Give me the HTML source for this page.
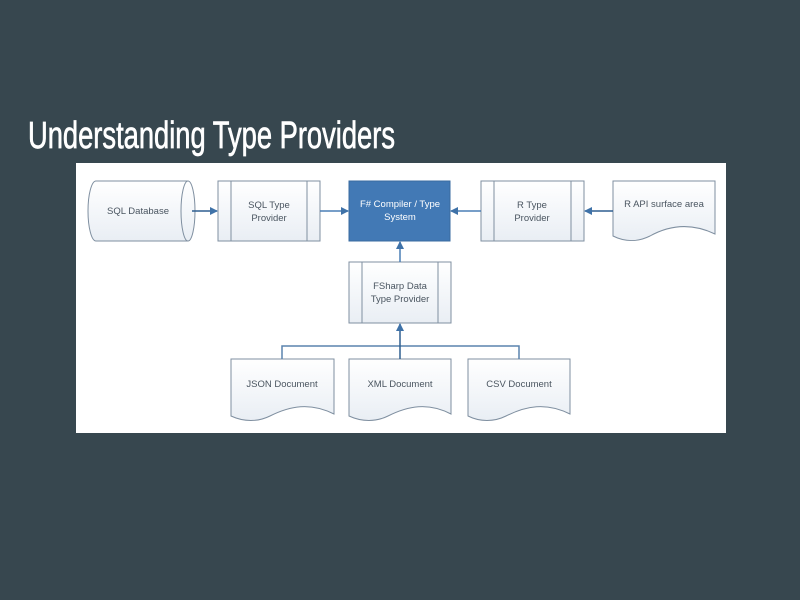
<!DOCTYPE html>
<html><head><style>html,body{margin:0;padding:0;background:#37474f;width:800px;height:600px;overflow:hidden}</style></head>
<body>
<svg width="800" height="600" viewBox="0 0 800 600" xmlns="http://www.w3.org/2000/svg" font-family="Liberation Sans, sans-serif">
<defs>
<linearGradient id="g" x1="0" y1="0" x2="0" y2="1"><stop offset="0" stop-color="#ffffff"/><stop offset="1" stop-color="#e9eef4"/></linearGradient>
<marker id="a" markerWidth="8" markerHeight="8" refX="7" refY="4" orient="auto" markerUnits="userSpaceOnUse"><path d="M0,0 L8,4 L0,8 Z" fill="#3f72a8"/></marker>
</defs>
<rect width="800" height="600" fill="#37474f"/>
<text x="28" y="148" font-size="38" fill="#fff" stroke="#fff" stroke-width="0.7" textLength="367" lengthAdjust="spacingAndGlyphs">Understanding Type Providers</text>
<rect x="76" y="163" width="650" height="270" fill="#fff"/>
<g stroke="#7f8fa0" stroke-width="1" fill="url(#g)">
<path d="M96,181 H188 A7,30 0 0 1 188,241 H96 A8,30 0 0 1 96,181 Z"/>
<path d="M188,181 A7,30 0 0 0 188,241" fill="none"/>
<rect x="218" y="181" width="102" height="60"/>
<line x1="231" y1="181" x2="231" y2="241"/><line x1="307" y1="181" x2="307" y2="241"/>
<rect x="481" y="181" width="103" height="60"/>
<line x1="494" y1="181" x2="494" y2="241"/><line x1="571" y1="181" x2="571" y2="241"/>
<rect x="349" y="262" width="102" height="61"/>
<line x1="362" y1="262" x2="362" y2="323"/><line x1="438" y1="262" x2="438" y2="323"/>
<path d="M613,181 H715 V234 C690,222 668,226 650,236 C638,242 625,242 613,236 Z"/>
<path d="M231,359 H334 V414 C310,402 290,406 270,416 C258,422 244,422 231,416 Z"/>
<path d="M349,359 H451 V414 C428,402 408,406 388,416 C376,422 362,422 349,416 Z"/>
<path d="M468,359 H570 V414 C546,402 526,406 506,416 C494,422 480,422 468,416 Z"/>
</g>
<rect x="349" y="181" width="101" height="60" fill="#4279b5" stroke="#3a6ba0"/>
<g stroke="#4a7fb5" stroke-width="1.5" fill="none">
<line x1="192" y1="211" x2="217" y2="211" marker-end="url(#a)" stroke="#2f5f90"/>
<line x1="320" y1="211" x2="348" y2="211" marker-end="url(#a)"/>
<line x1="481" y1="211" x2="451" y2="211" marker-end="url(#a)"/>
<line x1="613" y1="211" x2="585" y2="211" marker-end="url(#a)" stroke="#2f5f90"/>
<line x1="400" y1="262" x2="400" y2="242" marker-end="url(#a)"/>
<path d="M282,359 V346 H519 V359" stroke="#5a83ad"/>
<line x1="400" y1="359" x2="400" y2="324" marker-end="url(#a)" stroke="#2f5f90"/>
</g>
<g font-size="9.5" fill="#4a5560" text-anchor="middle">
<text x="138" y="214">SQL Database</text>
<text x="269" y="208">SQL Type</text><text x="269" y="221">Provider</text>
<text x="532" y="208">R Type</text><text x="532" y="221">Provider</text>
<text x="664" y="207">R API surface area</text>
<text x="400" y="289">FSharp Data</text><text x="400" y="302">Type Provider</text>
<text x="282" y="387">JSON Document</text>
<text x="400" y="387">XML Document</text>
<text x="519" y="387">CSV Document</text>
</g>
<g font-size="9.5" fill="#fff" text-anchor="middle">
<text x="400" y="207">F# Compiler / Type</text><text x="400" y="220">System</text>
</g>
</svg>
</body></html>
